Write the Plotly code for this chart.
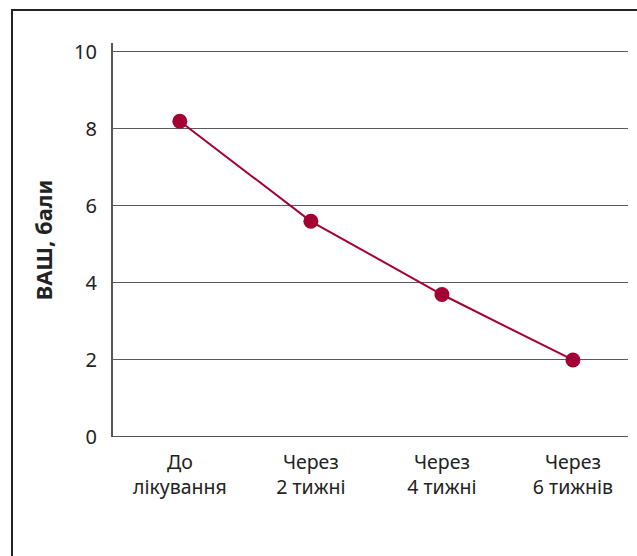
import plotly.graph_objects as go

categories = ["До<br>лікування", "Через<br>2 тижні", "Через<br>4 тижні", "Через<br>6 тижнів"]
vas_scores = [8.2, 5.6, 3.7, 2.0]
y_ticks = [0, 2, 4, 6, 8, 10]

W, H = 637, 556
L, R, T, B = 113, 9, 43, 119
pw, ph = W - L - R, H - T - B

fig = go.Figure()
fig.add_trace(go.Scatter(
    x=list(range(len(categories))), y=vas_scores,
    mode="lines+markers",
    line=dict(color="#a50034", width=2),
    marker=dict(color="#a50034", size=15),
    showlegend=False, cliponaxis=False,
))

font = "'Noto Sans', sans-serif"
fig.update_layout(
    width=W, height=H,
    margin=dict(l=L, r=R, t=T, b=B),
    paper_bgcolor="white", plot_bgcolor="white",
    font=dict(family=font, color="#222", size=18),
    xaxis=dict(
        range=[-0.51, 3.42],
        tickmode="array", tickvals=list(range(len(categories))), ticktext=categories,
        showgrid=False, zeroline=False,
        showline=False, ticks="",
        ticklabelstandoff=11,
        tickfont=dict(size=19.5, color="#222"),
    ),
    yaxis=dict(
        range=[0, 10.23],
        tickmode="array", tickvals=y_ticks,
        showgrid=True, gridcolor="#5a5a5a", gridwidth=1.2,
        zeroline=False,
        showline=True, linecolor="#555", linewidth=2,
        ticks="", ticklabelstandoff=10,
        tickfont=dict(size=20, color="#222"),
        title=dict(text="<b>ВАШ, бали</b>", font=dict(size=22, color="#222"), standoff=15),
    ),
)

# x axis line at 0
fig.add_shape(type="line", xref="paper", yref="y", x0=0, x1=1, y0=0, y1=0,
              line=dict(color="#555", width=2))

# outer frame (extends past the canvas at right and bottom)
fig.add_shape(type="rect", xref="paper", yref="paper",
              x0=(12 - L) / pw, x1=(W + 5 - L) / pw,
              y0=-(H + 5 - (H - B)) / ph, y1=((H - B) - 10) / ph,
              line=dict(color="#222", width=2), layer="below")

fig.write_html("out.html")
